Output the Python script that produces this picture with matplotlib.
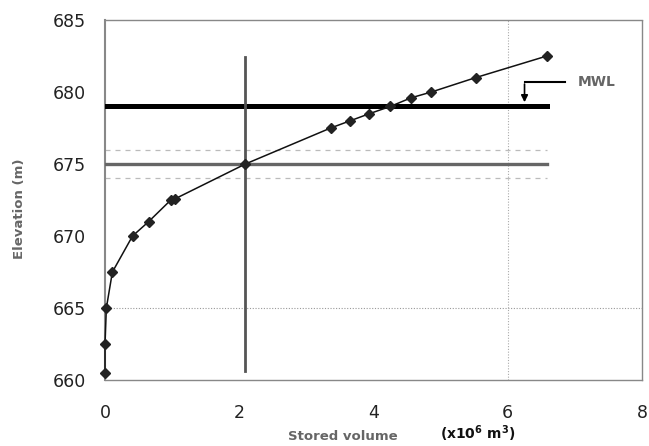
import matplotlib
matplotlib.use("Agg")
import matplotlib.pyplot as plt

plt.rcParams['font.family'] = ['DejaVu Sans']

# Data: elevation-storage curve
volume = [0.0, 0.0, 0.02, 0.11, 0.41, 0.65, 0.98, 1.05, 2.09, 3.36, 3.65, 3.94, 4.25, 4.56, 4.86, 5.52, 6.58]
elevation = [660.5, 662.5, 665.0, 667.5, 670.0, 671.0, 672.5, 672.6, 675.0, 677.5, 678.0, 678.5, 679.0, 679.6, 680.0, 681.0, 682.5]

mwl_level = 679.0
target_level = 675.0
band_levels = [674.0, 676.0]
line_xmax = 6.58
target_volume = 2.09
vline_range = [660.6, 682.45]

x_ticks = [0, 2, 4, 6, 8]
y_ticks = [660, 665, 670, 675, 680, 685]

fig = plt.figure(figsize=(6.49, 4.46), dpi=100)
ax = fig.add_axes([0.1618, 0.148, 0.8274, 0.807])

ax.set_xlim(0, 8)
ax.set_ylim(660, 685)

# grid lines (only a few visible in reference)
ax.axhline(665, color='#999999', lw=0.8, ls=(0, (1, 1.5)), zorder=1)
ax.axvline(6, color='#aaaaaa', lw=0.8, ls=(0, (1, 1.5)), zorder=1)

# dashed band lines
for b in band_levels:
    ax.plot([0, line_xmax], [b, b], color='#bbbbbb', lw=0.9, ls=(0, (4, 4)), zorder=2)

# target level line
ax.plot([0, line_xmax], [target_level, target_level], color='#666666', lw=2.4, zorder=3)
# MWL line
ax.plot([0, line_xmax], [mwl_level, mwl_level], color='black', lw=3.6, zorder=3)
# vertical line
ax.plot([target_volume, target_volume], vline_range, color='#555555', lw=2.0, zorder=3)

# curve
ax.plot(volume, elevation, color='#111111', lw=1.1, marker='D', markersize=5,
        markerfacecolor='#222222', markeredgecolor='#222222', zorder=5, clip_on=False)

# MWL annotation
ax.plot([6.25, 6.85], [680.7, 680.7], color='black', lw=1.5, zorder=4)
ax.annotate('', xy=(6.25, 679.1), xytext=(6.25, 680.75),
            arrowprops=dict(arrowstyle='-|>', color='black', lw=1.2, mutation_scale=10), zorder=4)
ax.text(7.05, 680.7, 'MWL', fontsize=10, fontweight='bold', color='#666666', va='center', ha='left')

# spines
ax.spines['left'].set_color('#888888')
ax.spines['left'].set_linewidth(1.5)
for s in ['top', 'right', 'bottom']:
    ax.spines[s].set_color('#888888')
    ax.spines[s].set_linewidth(1.0)
    ax.spines[s].set_linestyle((0, (1, 1)))

ax.set_xticks(x_ticks)
ax.set_yticks(y_ticks)
ax.tick_params(axis='x', length=0, pad=17, labelsize=12.5, labelcolor='#222222')
ax.tick_params(axis='y', length=0, pad=14, labelsize=12.5, labelcolor='#222222')

fig.text(0.030, 1 - 209 / 446, 'Elevation (m)', rotation=90, fontsize=9.5, fontweight='bold',
         color='#666666', ha='center', va='center')
fig.text(343 / 649, 1 - 437 / 446, 'Stored volume', fontsize=9.5, fontweight='bold',
         color='#666666', ha='center', va='center')
fig.text(478 / 649, 1 - 434 / 446, r'(x10$^{\mathbf{6}}$ m$^{\mathbf{3}}$)', fontsize=10, fontweight='bold',
         color='#111111', ha='center', va='center')

fig.savefig('out.png', dpi=100)
